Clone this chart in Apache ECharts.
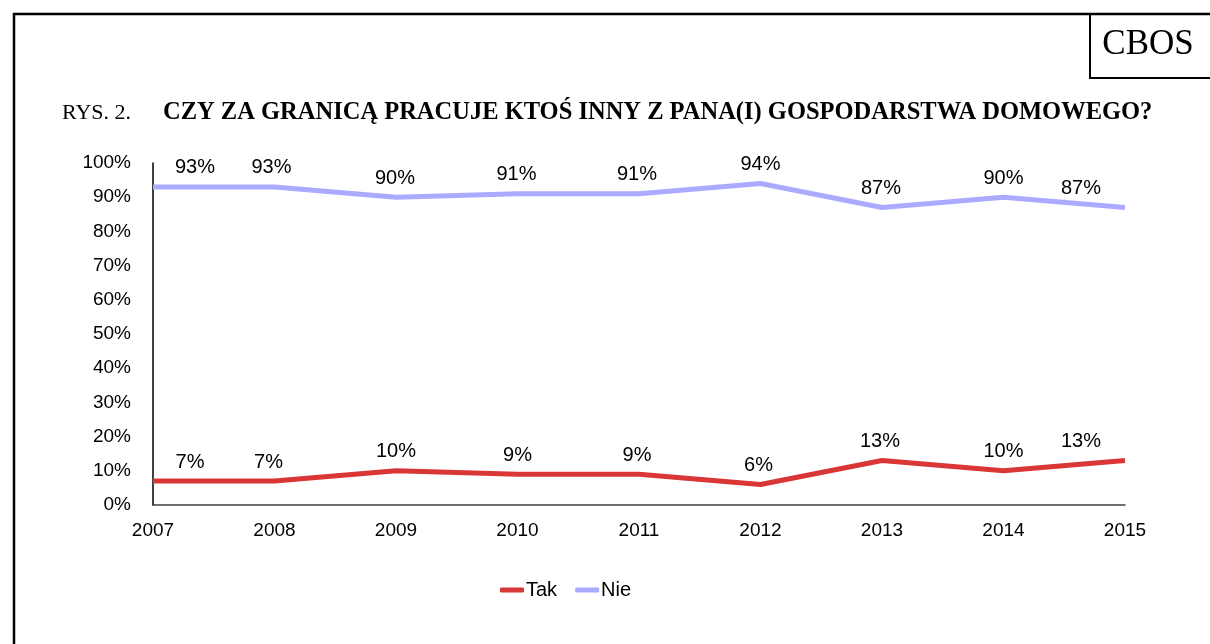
<!DOCTYPE html>
<html>
<head>
<meta charset="utf-8">
<script src="https://cdn.jsdelivr.net/npm/echarts@6/dist/echarts.min.js"></script>
<style>
html,body{margin:0;padding:0;background:#fff;}
#chart{width:1210px;height:644px;}
</style>
</head>
<body>
<div id="chart"></div>
<script>
const years = ['2007','2008','2009','2010','2011','2012','2013','2014','2015'];
const tak = [7, 7, 10, 9, 9, 6, 13, 10, 13];
const nie = [93, 93, 90, 91, 91, 94, 87, 90, 87];
const yTicks = [0,10,20,30,40,50,60,70,80,90,100];
const seriesNames = ['Tak', 'Nie'];

// label horizontal nudges (styling only)
const takDx = [37, -6, 0, 0, -2, -2, -2, 0, -44];
const nieDx = [42, -3, -1, -1, -2, 0, -1, 0, -44];

function withLabels(vals, dx) {
  return vals.map((v, i) => ({ value: v, label: { offset: [dx[i], 0] } }));
}

const chart = echarts.init(document.getElementById('chart'));
const sans = 'Liberation Sans, Arial, sans-serif';
const labelCfg = {
  show: true, position: 'top', distance: 9,
  formatter: p => p.value + '%',
  color: '#000', fontFamily: sans, fontSize: 20
};
chart.setOption({
  backgroundColor: '#fff',
  animation: false,
  graphic: [
    { type: 'polyline', shape: { points: [[14, 646], [14, 14], [1212, 14]] },
      style: { stroke: '#000', lineWidth: 2.5, fill: null } },
    { type: 'polyline', shape: { points: [[1090, 14], [1090, 78], [1212, 78]] },
      style: { stroke: '#000', lineWidth: 2, fill: null } },
    { type: 'text', x: 1148, y: 45,
      style: { text: 'CBOS', font: '35px "Liberation Serif", "Times New Roman", serif', fill: '#000', align: 'center', verticalAlign: 'middle' } },
    { type: 'text', x: 62, y: 113,
      style: { text: 'RYS. 2.', font: '22px "Liberation Serif", "Times New Roman", serif', fill: '#000', verticalAlign: 'middle' } },
    { type: 'text', x: 163, y: 113,
      style: { text: 'CZY ZA GRANICĄ PRACUJE KTOŚ INNY Z PANA(I) GOSPODARSTWA DOMOWEGO?', font: 'bold 24.5px "Liberation Serif", "Times New Roman", serif', fill: '#000', verticalAlign: 'middle' } }
  ],
  legend: {
    data: seriesNames,
    left: 495, top: 575,
    itemWidth: 24, itemHeight: 5, itemGap: 18,
    icon: 'roundRect',
    textStyle: { color: '#000', fontSize: 20, fontFamily: sans, padding: [0, 0, 0, -3] }
  },
  grid: { left: 153, right: 85, top: 163, bottom: 139, containLabel: false },
  xAxis: {
    type: 'category', data: years, boundaryGap: false,
    axisLine: { lineStyle: { color: '#404040', width: 1.5 } },
    axisTick: { show: false },
    axisLabel: { color: '#000', fontSize: 19, fontFamily: sans, margin: 16 },
    splitLine: { show: false }
  },
  yAxis: {
    type: 'value', min: 0, max: 100, interval: 10,
    axisLine: { show: true, lineStyle: { color: '#000', width: 1.5 } },
    axisTick: { show: false },
    axisLabel: { color: '#000', fontSize: 19, fontFamily: sans, margin: 22,
      formatter: v => yTicks.includes(v) ? v + '%' : '' },
    splitLine: { show: false }
  },
  series: [
    { name: seriesNames[0], type: 'line', data: withLabels(tak, takDx), showSymbol: true, symbol: 'circle', symbolSize: 0.1,
      lineStyle: { color: '#d93636', width: 5 }, itemStyle: { color: '#d93636' }, label: labelCfg },
    { name: seriesNames[1], type: 'line', data: withLabels(nie, nieDx), showSymbol: true, symbol: 'circle', symbolSize: 0.1,
      lineStyle: { color: '#aaaaff', width: 5 }, itemStyle: { color: '#aaaaff' }, label: labelCfg }
  ]
});
</script>
</body>
</html>
